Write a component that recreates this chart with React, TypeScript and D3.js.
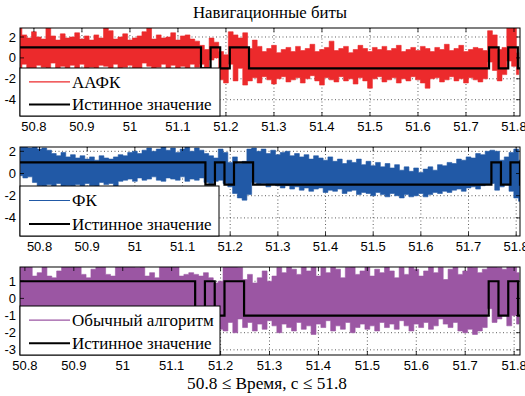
import React from 'react';
import * as d3 from 'd3';

// sample grid of the envelope arrays (seconds)
const sampleStart = 50.76;
const sampleStep = 0.01;

// true navigation bits: value holds from each edge until the next one
const bitEdges = [50.7, 51.148, 51.168, 51.188, 51.208, 51.248, 51.748, 51.768, 51.788, 51.808, 51.9];
const bitValues = [1, -1, 1, -1, 1, -1, 1, -1, 1, -1, -1];

// ААФК (upper / lower envelope per sample)
const aafkHi = [
  2.6, 2.9, 2.2, 1.9, 2.5, 2.0, 1.8, 2.9, 2.1, 1.7, 2.3, 1.9, 2.0, 2.4, 1.8, 2.1, 1.7, 2.2, 1.9, 2.9,
  2.6, 1.8, 2.0, 2.3, 1.7, 1.9, 2.1, 2.5, 2.9, 1.8, 2.2, 1.9, 2.0, 2.4, 1.7, 2.1, 2.2, 1.8, 1.6,
  1.2, 0.8, 1.9, 1.5, 0.6, 0.3, 2.5, 2.2, 1.9, 2.4,
  0.9, 1.7, 1.1, 0.6, 0.9, 1.2, 0.5, 0.8, 1.0, 0.6, 1.1, 0.7, 0.9, 1.3, 0.6, 0.8, 1.0, 1.6, 0.7, 0.9,
  1.1, 0.5, 0.8, 1.2, 0.9, 0.6, 1.0, 0.8, 1.1, 0.7, 0.9, 1.2, 0.6, 0.8, 1.0, 0.7, 1.1, 0.9, 0.6, 1.0,
  0.8, 1.3, 0.7, 0.9, 1.2, 0.6, 0.8, 1.0, 0.9, 0.7,
  2.6, 2.2, 0.8, 1.0, 2.9, 2.9, 0.5,
];
const aafkLo = [
  -0.8, -1.2, -0.6, -1.0, -1.4, -0.7, -0.9, -1.3, -0.5, -1.1, -0.8, -1.5, -0.7, -1.0, -0.6, -1.2, -0.9, -1.4, -0.7, -0.8,
  -1.1, -0.6, -1.3, -0.9, -0.7, -1.0, -1.2, -0.5, -0.8, -1.4, -0.9, -0.6, -1.1, -0.7, -1.3, -0.8, -1.0, -0.6, -0.9,
  -0.6, -0.9, -0.2, 0.0, -2.1, -2.4, -0.6, -2.2, -1.0, -2.6,
  -2.2, -1.9, -2.4, -1.8, -2.1, -2.5, -2.0, -1.8, -2.3, -2.1, -1.9, -2.4, -2.0, -1.7, -2.2, -2.6, -1.9, -2.1, -2.3, -1.8,
  -2.2, -2.0, -2.5, -1.9, -2.2, -2.9, -2.0, -1.8, -2.3, -2.1, -1.9, -2.4, -2.0, -2.2, -1.8, -2.1, -2.4, -2.9, -2.0, -1.9,
  -2.3, -2.1, -1.8, -2.2, -2.0, -2.4, -1.9, -2.1, -2.3, -2.0,
  -0.4, -1.2, -2.2, -1.6, -0.3, -0.8, -1.6,
];

// ФК
const fkHi = [
  2.4, 2.4, 2.3, 2.4, 2.2, 2.3, 2.1, 1.8, 1.6, 1.9, 1.5, 1.7, 1.4, 1.6, 1.3, 1.5, 1.2, 1.6, 1.4, 1.3,
  1.5, 1.7, 1.6, 1.9, 2.0, 1.8, 2.1, 2.3, 2.0, 2.2, 2.4, 2.1, 2.3, 1.9, 2.2, 2.4, 2.0, 2.3, 2.1,
  1.8, 1.6, 1.4, 2.2, 1.9, 1.0, 1.5, 0.9, 1.1, 2.2,
  2.3, 2.0, 2.2, 1.8, 2.1, 1.7, 1.9, 2.0, 1.6, 1.8, 1.5, 1.7, 1.3, 1.6, 1.4, 1.2, 1.5, 1.1, 1.3, 0.9,
  1.2, 1.0, 1.3, 0.8, 1.1, 0.7, 1.0, 0.6, 0.9, 0.5, 0.8, 0.3, 0.6, 0.2, 0.5, 0.1, 0.4, 0.6, 0.3, 0.8,
  0.7, 1.0, 0.9, 1.3, 1.2, 1.5, 1.4, 1.8, 1.7, 2.0,
  2.1, 2.0, 1.2, 1.5, 1.9, 2.2, 1.2,
];
const fkLo = [
  -0.2, -0.4, -0.3, -0.8, -1.1, -1.3, -1.0, -1.2, -0.9, -1.4, -1.1, -1.2, -1.0, -1.3, -0.9, -1.1, -1.2, -0.8, -1.0, -0.9,
  -1.2, -0.7, -0.6, -0.5, -0.7, -0.4, -0.6, -0.5, -0.3, -0.6, -0.7, -0.4, -0.5, -0.6, -0.3, -0.7, -0.5, -0.6, -0.4,
  -0.8, -0.9, -0.7, -0.6, -0.9, -1.2, -1.8, -2.2, -2.4, -1.9,
  -0.8, -1.0, -0.9, -1.2, -1.0, -1.1, -1.3, -1.1, -1.4, -1.2, -1.5, -1.3, -1.6, -1.4, -1.3, -1.7, -1.5, -1.6, -1.4, -1.8,
  -1.6, -1.5, -1.9, -1.7, -1.8, -2.0, -1.7, -1.9, -2.1, -1.8, -2.0, -2.2, -1.9, -2.1, -2.0, -1.8, -2.1, -1.9, -1.7, -1.8,
  -1.6, -1.7, -1.5, -1.4, -1.6, -1.3, -1.2, -1.4, -1.1, -1.0,
  -0.9, -1.5, -1.2, -1.0, -1.6, -2.2, -2.5,
];

// Обычный алгоритм
const usualHi = [
  2.0, 2.0, 2.0, 1.9, 2.0, 1.9, 1.3, 1.5, 2.0, 1.3, 1.2, 1.6, 2.0, 2.0, 1.9, 2.0, 1.4, 1.2, 1.7, 2.0,
  2.0, 1.4, 1.3, 2.0, 1.9, 2.0, 2.0, 1.8, 2.0, 1.3, 1.5, 1.2, 2.0, 2.0, 1.9, 2.0, 1.3, 1.4, 1.5,
  1.4, 1.3, 1.5, 1.2, 0.9, 1.0, 2.0, 1.9, 2.0, 1.8,
  1.1, 1.4, 0.9, 1.2, 1.6, 1.0, 1.3, 1.8, 1.5, 2.0, 1.7, 1.4, 1.9, 1.6, 2.0, 1.3, 1.8, 1.5, 1.9, 1.7,
  1.2, 1.8, 2.0, 1.4, 1.6, 1.9, 1.3, 1.7, 1.5, 2.0, 1.6, 1.2, 1.8, 1.4, 1.9, 1.7, 1.3, 1.6, 2.0, 1.5,
  1.8, 1.1, 1.7, 1.9, 1.4, 1.6, 2.0, 1.8, 1.5, 1.7,
  2.0, 1.9, 1.8, 1.7, 2.0, 2.0, 1.5,
];
const usualLo = [
  -0.6, -0.9, -0.7, -1.1, -0.8, -0.6, -1.0, -0.7, -0.9, -1.2, -0.8, -0.6, -0.9, -0.7, -1.0, -0.8, -0.6, -1.1, -0.7, -0.9,
  -0.8, -1.0, -0.6, -0.7, -0.9, -0.8, -1.1, -0.7, -0.6, -0.9, -0.8, -1.0, -0.7, -0.9, -0.6, -0.8, -1.0, -0.7, -0.5,
  -1.0, -0.9, -0.5, -0.8, -0.6, -1.8, -1.9, -1.4, -2.0, -1.2,
  -1.7, -1.4, -1.9, -1.5, -1.8, -1.3, -1.6, -2.0, -1.5, -1.7, -1.9, -1.4, -1.8, -1.6, -2.1, -1.5, -1.7, -1.3, -1.9, -1.6,
  -1.8, -1.4, -2.0, -1.7, -1.5, -1.8, -1.6, -1.9, -1.4, -1.7, -1.5, -1.8, -1.3, -1.6, -1.9, -1.5, -1.7, -1.4, -1.8, -1.6,
  -1.2, -1.5, -1.7, -1.4, -1.9, -2.0, -1.8, -2.1, -1.9, -1.7,
  -0.6, -1.4, -1.2, -1.0, -1.6, -1.0, -1.5,
];

const xTicks = [50.8, 50.9, 51, 51.1, 51.2, 51.3, 51.4, 51.5, 51.6, 51.7, 51.8];
const trueLabel = 'Истинное значение';

const sans = '"Liberation Sans", Arial, sans-serif';
const serif = '"Liberation Serif", "Times New Roman", serif';

interface PanelProps {
  id: string;
  top: number;
  bottom: number;
  left: number;
  right: number;
  xDomain: [number, number];
  yDomain: [number, number];
  yTicks: number[];
  hi: number[];
  lo: number[];
  color: string;
  label: string;
  legendTop: number;
  legendRight: number;
}

function Panel({ id, top, bottom, left, right, xDomain, yDomain, yTicks, hi, lo, color, label, legendTop, legendRight }: PanelProps) {
  const x = d3.scaleLinear().domain(xDomain).range([left, right]);
  const y = d3.scaleLinear().domain(yDomain).range([bottom, top]);

  const samples = hi.map((h, i) => ({ t: sampleStart + i * sampleStep, hi: h, lo: lo[i] }));
  // each sample drawn as a vertical block, like the dense vertical strokes of the noisy signal
  const band = d3.area<{ t: number; hi: number; lo: number }>()
    .x(d => x(d.t))
    .y0(d => y(d.lo))
    .y1(d => y(d.hi))
    .curve(d3.curveStep)(samples) || '';

  const bits = bitEdges.map((t, i) => [t, bitValues[i]] as [number, number]);
  const truth = d3.line<[number, number]>()
    .x(d => x(d[0]))
    .y(d => y(d[1]))
    .curve(d3.curveStepAfter)(bits) || '';

  const tickLen = 4;
  const row1 = legendTop + (bottom - legendTop) * 0.29;
  const row2 = legendTop + (bottom - legendTop) * 0.76;

  return (
    <g>
      <defs>
        <clipPath id={id}>
          <rect x={left} y={top} width={right - left} height={bottom - top} />
        </clipPath>
      </defs>
      <rect x={left} y={top} width={right - left} height={bottom - top} fill="#fff" />
      {/* grid */}
      <g stroke="#333" strokeWidth={0.8} strokeDasharray="1,2.5">
        {xTicks.map(t => (
          <line key={'gx' + t} x1={x(t)} x2={x(t)} y1={top} y2={bottom} />
        ))}
        {yTicks.map(v => (
          <line key={'gy' + v} x1={left} x2={right} y1={y(v)} y2={y(v)} />
        ))}
      </g>
      <g clipPath={`url(#${id})`}>
        <path d={band} fill={color} stroke={color} strokeWidth={0.6} />
        <path d={truth} fill="none" stroke="#000" strokeWidth={2.2} />
      </g>
      {/* ticks */}
      <g stroke="#000" strokeWidth={0.8}>
        {xTicks.map(t => (
          <g key={'tx' + t}>
            <line x1={x(t)} x2={x(t)} y1={bottom} y2={bottom - tickLen} />
            <line x1={x(t)} x2={x(t)} y1={top} y2={top + tickLen} />
          </g>
        ))}
        {yTicks.map(v => (
          <g key={'ty' + v}>
            <line x1={left} x2={left + tickLen} y1={y(v)} y2={y(v)} />
            <line x1={right} x2={right - tickLen} y1={y(v)} y2={y(v)} />
          </g>
        ))}
      </g>
      <rect x={left} y={top} width={right - left} height={bottom - top} fill="none" stroke="#000" strokeWidth={1} />
      {/* tick labels */}
      <g fontFamily={sans} fontSize={13} fill="#000">
        {xTicks.map(t => (
          <text key={'lx' + t} x={x(t)} y={bottom + 15} textAnchor="middle">{d3.format('~g')(t)}</text>
        ))}
        {yTicks.map(v => (
          <text key={'ly' + v} x={left - 4} y={y(v)} dy="0.35em" textAnchor="end">{v}</text>
        ))}
      </g>
      {/* legend */}
      <rect x={left} y={legendTop} width={legendRight - left} height={bottom - legendTop} fill="#fff" stroke="#000" strokeWidth={1} />
      <line x1={left + 9} x2={left + 50} y1={row1} y2={row1} stroke={color} strokeWidth={1.2} />
      <line x1={left + 9} x2={left + 50} y1={row2} y2={row2} stroke="#000" strokeWidth={2} />
      <g fontFamily={serif} fontSize={17} fill="#000">
        <text x={left + 52} y={row1} dy="0.35em">{label}</text>
        <text x={left + 52} y={row2} dy="0.35em">{trueLabel}</text>
      </g>
    </g>
  );
}

export default function App() {
  return (
    <svg width={525} height={396} style={{ position: 'absolute', left: 0, top: 0, background: '#fff' }}>
      <rect width={525} height={396} fill="#fff" />
      <text x={270} y={18} textAnchor="middle" fontFamily={serif} fontSize={16.8}>Навигационные биты</text>
      <Panel id="c1" top={28} bottom={116} left={20} right={520} xDomain={[50.771, 51.8125]} yDomain={[-5.56, 2.86]}
        yTicks={[2, 0, -2, -4]} hi={aafkHi} lo={aafkLo} color="#ec2a2c" label="ААФК" legendTop={68} legendRight={220} />
      <Panel id="c2" top={147} bottom={236} left={20} right={520} xDomain={[50.759, 51.808]} yDomain={[-5.63, 2.39]}
        yTicks={[2, 0, -2, -4]} hi={fkHi} lo={fkLo} color="#2159a6" label="ФК" legendTop={186} legendRight={219} />
      <Panel id="c3" top={267} bottom={355} left={20} right={520} xDomain={[50.79, 51.812]} yDomain={[-3.3, 1.83]}
        yTicks={[1, 0, -1, -2, -3]} hi={usualHi} lo={usualLo} color="#9b56a3" label="Обычный алгоритм" legendTop={306} legendRight={220} />
      <text x={267} y={389} textAnchor="middle" fontFamily={serif} fontSize={17.3}>50.8 ≤ Время, с ≤ 51.8</text>
    </svg>
  );
}
